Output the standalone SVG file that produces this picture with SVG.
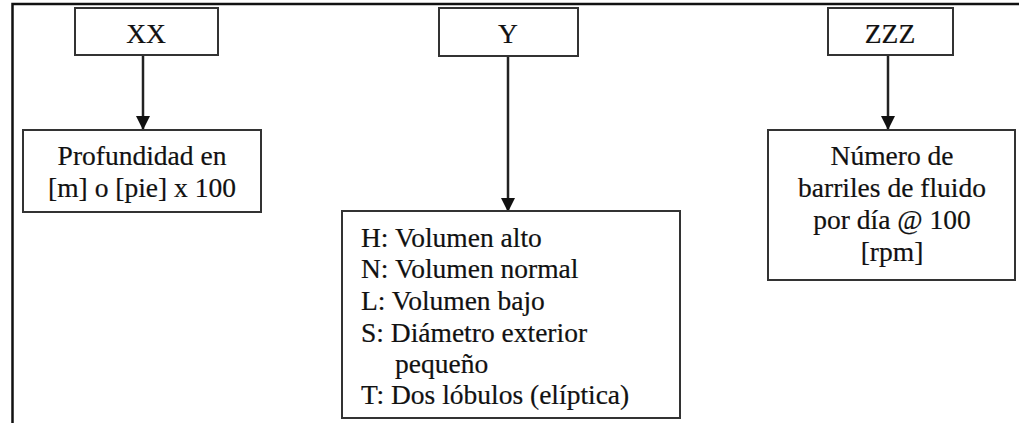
<svg xmlns="http://www.w3.org/2000/svg" width="1019" height="423" viewBox="0 0 1019 423">
<defs>
<style>
.box{fill:#fff;stroke:#333;stroke-width:2}
.frame{fill:none;stroke:#111;stroke-width:2.5}
.t{font-family:"Liberation Serif","Times New Roman",serif;font-size:27.5px;fill:#111;stroke:#111;stroke-width:0.2}
.c{text-anchor:middle}
.ln{stroke:#222;stroke-width:2.5;fill:none}
</style>
<marker id="ah" markerWidth="14" markerHeight="14" refX="13" refY="7" orient="auto" markerUnits="userSpaceOnUse" viewBox="0 0 14 14">
<path d="M0,0 L14,7 L0,14 Z" fill="#111"/>
</marker>
</defs>
<rect width="1019" height="423" fill="#fff"/>
<path class="frame" d="M12.5,423 L12.5,4 L1019,4"/>
<g id="connectors">
<line class="ln" x1="143" y1="55" x2="143" y2="129" marker-end="url(#ah)"/>
<line class="ln" x1="508" y1="56" x2="508" y2="211" marker-end="url(#ah)"/>
<line class="ln" x1="888" y1="55" x2="888" y2="129" marker-end="url(#ah)"/>
</g>
<g id="node-xx">
<rect class="box" x="75" y="8" width="143" height="47"/>
<text class="t c" x="146" y="43">XX</text>
</g>
<g id="node-y">
<rect class="box" x="439" y="8" width="139" height="48"/>
<text class="t c" x="508" y="43">Y</text>
</g>
<g id="node-zzz">
<rect class="box" x="828" y="8" width="125" height="47"/>
<text class="t c" x="890" y="43">ZZZ</text>
</g>
<g id="node-profundidad">
<rect class="box" x="23" y="130" width="238" height="82"/>
<text class="t c" x="142" y="165">Profundidad en</text>
<text class="t c" x="142" y="197">[m] o [pie] x 100</text>
</g>
<g id="node-tipos">
<rect class="box" x="342" y="211" width="338" height="207"/>
<text class="t" x="361" y="247">H: Volumen alto</text>
<text class="t" x="361" y="278">N: Volumen normal</text>
<text class="t" x="361" y="310">L: Volumen bajo</text>
<text class="t" x="361" y="342">S: Diámetro exterior</text>
<text class="t" x="395" y="373">pequeño</text>
<text class="t" x="361" y="404">T: Dos lóbulos (elíptica)</text>
</g>
<g id="node-barriles">
<rect class="box" x="768" y="130" width="247" height="150"/>
<text class="t c" x="892" y="165">Número de</text>
<text class="t c" x="892" y="197">barriles de fluido</text>
<text class="t c" x="892" y="229">por día @ 100</text>
<text class="t c" x="892" y="261">[rpm]</text>
</g>
</svg>
